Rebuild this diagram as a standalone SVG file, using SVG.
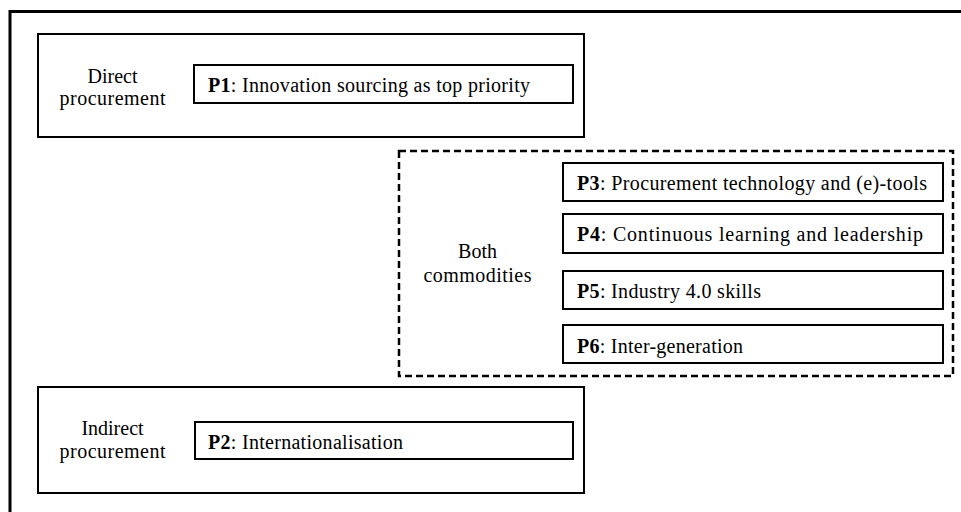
<svg xmlns="http://www.w3.org/2000/svg" width="961" height="512" viewBox="0 0 961 512">
<style>
.t{font-size:20px;fill:#000}
.lbl{text-anchor:middle}
.outer{fill:#fff;stroke:#000;stroke-width:2}
.inner{fill:#fff;stroke:#000;stroke-width:2}
.dash{fill:none;stroke:#000;stroke-width:2.5;stroke-dasharray:7,4}
.frame{fill:none;stroke:#000;stroke-width:3}
.b{font-weight:bold}
</style>
<rect width="961" height="512" fill="#fff"/>
<path class="frame" d="M10,512 V11.5 H961"/>
<g font-family="Liberation Serif">
<g id="direct">
<rect class="outer" x="38" y="34" width="546" height="103"/>
<text class="t lbl" x="112.5" y="83">Direct</text>
<text class="t lbl" x="112.5" y="105" textLength="106">procurement</text>
</g>
<g id="p1">
<rect class="inner" x="194" y="65" width="379" height="38"/>
<text class="t" x="208" y="92" textLength="322"><tspan class="b">P1</tspan>: Innovation sourcing as top priority</text>
</g>
<g id="both">
<rect class="dash" x="399" y="151" width="554" height="225"/>
<text class="t lbl" x="477.5" y="258">Both</text>
<text class="t lbl" x="477.5" y="282" textLength="108">commodities</text>
</g>
<g id="p3">
<rect class="inner" x="563" y="163" width="380" height="38"/>
<text class="t" x="577" y="190" textLength="350"><tspan class="b">P3</tspan>: Procurement technology and (e)-tools</text>
</g>
<g id="p4">
<rect class="inner" x="563" y="214" width="380" height="39"/>
<text class="t" x="577" y="241" textLength="346"><tspan class="b">P4</tspan>: Continuous learning and leadership</text>
</g>
<g id="p5">
<rect class="inner" x="563" y="271" width="380" height="38"/>
<text class="t" x="577" y="298" textLength="184"><tspan class="b">P5</tspan>: Industry 4.0 skills</text>
</g>
<g id="p6">
<rect class="inner" x="563" y="325" width="380" height="38"/>
<text class="t" x="577" y="353" textLength="166"><tspan class="b">P6</tspan>: Inter-generation</text>
</g>
<g id="indirect">
<rect class="outer" x="38" y="387" width="546" height="106"/>
<text class="t lbl" x="112.5" y="435">Indirect</text>
<text class="t lbl" x="112.5" y="458" textLength="106">procurement</text>
</g>
<g id="p2">
<rect class="inner" x="195" y="422" width="378" height="37"/>
<text class="t" x="208" y="449" textLength="195"><tspan class="b">P2</tspan>: Internationalisation</text>
</g>
</g>
<g id="connectors"></g>
</svg>
